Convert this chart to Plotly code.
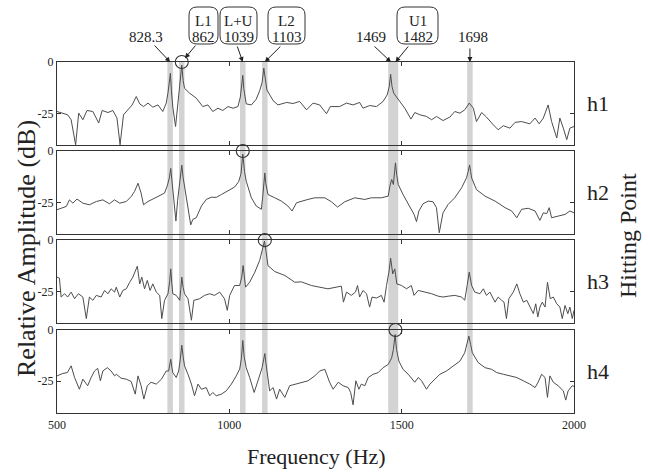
import plotly.graph_objects as go
from plotly.subplots import make_subplots

# ---------------- data (frequency Hz, relative amplitude dB) ----------------
h1 = [(500,-24.1),(517,-24.9),(531,-25.7),(541,-28.1),(554,-40.3),(563,-24.9),(575,-28.1),(587,-23.6),
      (604,-24.1),(621,-29.7),(631,-23.6),(648,-24.6),(662,-23.6),(674,-27.3),(683,-40.3),(693,-25.7),
      (706,-23.0),(718,-20.9),(730,-16.8),(740,-20.4),(751,-21.7),(764,-20.0),(778,-22.0),(793,-20.9),
      (807,-24.1),(817,-20.0),(822,-15.0),(826,-10.0),(829,-5.5),(832,-14.0),(836,-22.0),(844,-31.4),
      (849,-22.0),(854,-14.0),(858,-9.0),(862,-1.5),(866,-9.0),(870,-12.8),(885,-15.2),(904,-17.6),
      (923,-21.7),(938,-20.9),(952,-24.1),(967,-22.5),(981,-23.6),(996,-21.7),(1011,-22.5),(1025,-21.7),
      (1032,-17.0),(1036,-12.0),(1039,-6.5),(1042,-13.0),(1046,-18.5),(1049,-20.4),(1064,-20.9),
      (1078,-18.1),(1088,-14.0),(1095,-10.0),(1100,-3.0),(1104,-9.0),(1109,-13.6),(1127,-18.8),
      (1141,-20.9),(1166,-19.7),(1185,-20.2),(1204,-19.2),(1224,-23.3),(1243,-20.0),(1262,-20.9),
      (1282,-25.2),(1293,-21.7),(1320,-21.7),(1340,-20.0),(1359,-20.9),(1378,-19.7),(1388,-22.5),
      (1407,-21.2),(1427,-21.7),(1446,-19.2),(1458,-16.0),(1464,-12.0),(1468,-6.0),(1472,-12.0),
      (1477,-15.2),(1490,-18.4),(1509,-22.5),(1527,-27.8),(1538,-24.6),(1553,-25.7),(1572,-26.5),
      (1587,-28.1),(1601,-26.5),(1620,-28.5),(1640,-26.8),(1654,-24.1),(1669,-24.9),(1683,-23.3),
      (1696,-20.0),(1708,-22.5),(1717,-29.0),(1732,-24.6),(1746,-26.8),(1766,-30.6),(1780,-33.0),
      (1795,-31.0),(1814,-32.2),(1829,-29.4),(1848,-29.0),(1872,-30.1),(1887,-27.3),(1899,-30.1),
      (1911,-27.3),(1925,-20.9),(1935,-29.0),(1950,-37.0),(1959,-27.3),(1969,-32.2),(1979,-37.8),
      (1988,-32.2),(2000,-31.4)]

h2 = [(500,-28.6),(512,-27.8),(527,-27.0),(536,-23.8),(546,-25.4),(558,-23.4),(575,-25.4),(594,-26.2),
      (614,-24.6),(633,-23.8),(652,-25.7),(667,-23.8),(682,-25.4),(701,-24.6),(715,-22.2),(725,-19.7),
      (735,-15.7),(744,-20.5),(751,-26.2),(764,-24.6),(783,-22.9),(803,-21.3),(812,-20.5),(820,-17.0),
      (826,-13.0),(830,-8.5),(834,-16.0),(837,-22.8),(845,-34.1),(850,-24.0),(855,-16.0),(859,-11.0),
      (862,-6.9),(866,-13.0),(872,-19.6),(880,-26.8),(888,-36.0),(894,-33.3),(904,-32.5),(919,-26.8),
      (933,-23.6),(948,-22.5),(962,-22.6),(977,-21.2),(996,-19.6),(1015,-17.6),(1027,-15.0),(1034,-11.0),
      (1039,-1.5),(1044,-10.0),(1049,-14.7),(1064,-22.8),(1078,-26.8),(1093,-28.4),(1097,-22.0),
      (1100,-15.0),(1103,-10.7),(1106,-16.0),(1112,-21.2),(1132,-22.8),(1151,-24.4),(1170,-26.8),
      (1182,-29.2),(1195,-25.2),(1209,-24.4),(1228,-23.6),(1248,-22.8),(1277,-22.8),(1296,-24.7),
      (1314,-27.3),(1335,-24.7),(1364,-22.8),(1393,-23.6),(1412,-22.8),(1441,-22.8),(1461,-22.0),
      (1466,-17.0),(1471,-13.9),(1476,-16.3),(1482,-5.8),(1486,-12.0),(1490,-16.3),(1504,-21.2),
      (1524,-27.6),(1536,-30.9),(1543,-34.4),(1550,-29.2),(1562,-25.7),(1577,-24.4),(1591,-24.7),
      (1601,-27.6),(1609,-39.8),(1620,-30.1),(1635,-26.0),(1654,-22.8),(1674,-17.9),(1688,-13.1),
      (1693,-10.0),(1697,-6.8),(1700,-10.0),(1703,-13.1),(1717,-18.8),(1742,-22.0),(1771,-24.4),
      (1800,-27.6),(1819,-29.2),(1834,-32.5),(1848,-28.4),(1867,-27.9),(1887,-29.2),(1901,-33.8),
      (1911,-30.1),(1921,-30.5),(1928,-27.6),(1935,-32.5),(1954,-31.7),(1974,-30.9),(1988,-29.2),
      (2000,-30.1)]

h3 = [(500,-18.0),(507,-18.5),(512,-27.7),(522,-26.1),(531,-27.7),(541,-25.3),(551,-28.5),(562,-26.1),
      (575,-27.7),(585,-38.2),(594,-27.7),(604,-29.3),(614,-26.9),(628,-27.7),(638,-24.5),(648,-26.1),
      (657,-23.7),(667,-25.3),(672,-22.9),(682,-27.7),(691,-24.5),(701,-23.7),(711,-20.5),(720,-18.0),
      (733,-12.7),(740,-21.3),(746,-18.0),(754,-23.7),(762,-19.6),(770,-24.5),(778,-21.3),(788,-25.3),
      (798,-26.9),(804,-38.2),(812,-29.3),(822,-26.1),(827,-20.0),(830,-14.0),(833,-21.0),(836,-26.1),
      (846,-26.9),(856,-29.3),(859,-24.0),(862,-18.0),(866,-23.0),(870,-26.1),(880,-28.5),(890,-39.0),
      (897,-29.3),(914,-28.5),(928,-26.9),(943,-26.1),(957,-26.9),(972,-25.3),(986,-28.5),(994,-34.2),
      (1001,-26.9),(1015,-22.1),(1030,-22.1),(1036,-18.0),(1040,-12.4),(1044,-19.0),(1047,-22.9),
      (1059,-20.5),(1074,-15.6),(1088,-9.9),(1097,-4.0),(1102,-0.5),(1106,-5.0),(1112,-12.4),
      (1132,-15.3),(1161,-17.2),(1190,-20.5),(1209,-20.3),(1238,-22.1),(1267,-22.9),(1286,-23.7),
      (1325,-22.4),(1331,-30.2),(1340,-25.3),(1354,-26.9),(1366,-25.3),(1372,-22.1),(1378,-27.7),
      (1388,-24.5),(1398,-26.1),(1407,-32.6),(1414,-27.7),(1427,-28.2),(1441,-26.9),(1449,-30.2),
      (1456,-22.1),(1463,-15.6),(1468,-8.8),(1474,-16.4),(1480,-14.0),(1486,-21.3),(1500,-22.1),
      (1514,-23.7),(1528,-22.1),(1536,-26.9),(1548,-24.5),(1567,-25.3),(1587,-26.1),(1606,-27.3),
      (1620,-27.7),(1635,-27.3),(1654,-26.9),(1674,-27.7),(1683,-29.3),(1690,-22.1),(1696,-15.6),
      (1703,-22.1),(1712,-25.3),(1727,-26.1),(1737,-23.7),(1746,-26.9),(1756,-25.3),(1771,-30.2),
      (1780,-27.7),(1790,-29.3),(1797,-30.2),(1804,-38.2),(1811,-28.5),(1824,-25.3),(1834,-21.3),
      (1843,-26.1),(1853,-30.2),(1863,-29.3),(1872,-32.6),(1882,-35.8),(1889,-31.0),(1895,-37.4),
      (1901,-32.6),(1908,-30.2),(1916,-32.6),(1923,-20.5),(1931,-28.5),(1940,-27.7),(1950,-31.0),
      (1959,-32.6),(1966,-38.2),(1974,-31.8),(1982,-35.8),(1988,-32.6),(1995,-38.2),(2000,-34.2)]

h4 = [(500,-22.4),(517,-21.2),(530,-20.8),(541,-17.5),(551,-23.2),(565,-28.9),(575,-24.0),(585,-26.4),
      (589,-27.2),(599,-23.2),(609,-20.0),(618,-18.7),(626,-24.8),(633,-20.0),(646,-18.4),(657,-20.0),
      (667,-22.4),(672,-21.6),(686,-23.5),(701,-24.0),(715,-25.1),(727,-31.3),(735,-22.4),(744,-27.2),
      (752,-33.7),(762,-27.2),(773,-25.5),(788,-26.4),(803,-24.0),(817,-20.0),(824,-20.0),(827,-17.0),
      (830,-14.3),(833,-18.0),(836,-20.8),(846,-23.2),(853,-20.0),(858,-14.0),(862,-7.4),(866,-13.0),
      (870,-17.5),(880,-21.6),(890,-26.4),(899,-32.1),(909,-26.4),(919,-28.9),(933,-28.1),(943,-32.1),
      (952,-30.5),(962,-32.1),(977,-31.3),(991,-29.7),(1006,-26.4),(1020,-22.4),(1030,-19.1),
      (1035,-14.0),(1039,-5.1),(1043,-13.0),(1049,-18.4),(1059,-23.2),(1072,-30.5),(1083,-24.8),
      (1095,-18.4),(1100,-14.0),(1103,-11.5),(1106,-16.0),(1110,-21.6),(1117,-29.7),(1127,-28.1),
      (1137,-33.7),(1146,-28.9),(1161,-32.9),(1175,-27.2),(1195,-26.4),(1209,-25.5),(1228,-24.8),
      (1248,-22.4),(1262,-20.0),(1277,-19.2),(1291,-25.5),(1301,-28.9),(1316,-25.5),(1330,-27.2),
      (1345,-28.1),(1352,-30.5),(1359,-36.5),(1367,-24.8),(1376,-28.9),(1383,-26.4),(1393,-27.2),
      (1403,-23.2),(1417,-21.6),(1432,-20.8),(1446,-18.4),(1461,-16.8),(1471,-13.6),(1476,-9.5),
      (1481,-2.2),(1485,-9.5),(1492,-15.2),(1504,-19.2),(1519,-21.6),(1538,-25.5),(1548,-23.2),
      (1558,-24.8),(1572,-28.9),(1582,-26.4),(1596,-24.0),(1611,-21.6),(1630,-20.0),(1649,-17.5),
      (1669,-15.2),(1683,-11.1),(1690,-7.0),(1695,-3.0),(1700,-7.0),(1705,-11.1),(1722,-15.9),
      (1742,-18.4),(1761,-19.2),(1776,-20.8),(1795,-21.6),(1814,-22.4),(1834,-23.2),(1853,-24.8),
      (1872,-26.4),(1887,-28.1),(1896,-25.5),(1906,-21.6),(1916,-23.2),(1923,-32.9),(1930,-22.4),
      (1940,-25.5),(1954,-27.2),(1969,-29.7),(1976,-34.2),(1983,-29.7),(1995,-27.2),(2000,-27.5)]

spectra = [h1, h2, h3, h4]
panel_labels = ["h1", "h2", "h3", "h4"]
hit_freqs = [862, 1039, 1103, 1482]          # circled peak = hitting point
band_freqs = [828.3, 862, 1039, 1103, 1469, 1482, 1698]
x_ticks = [500, 1000, 1500, 2000]
y_ticks = [-25, 0]
y_ticktext = ["-25", "0"]

plain_labels = ["828.3", "1469", "1698"]
boxed_labels = [("L1", "862"), ("L+U", "1039"), ("L2", "1103"), ("U1", "1482")]

# ---------------- layout geometry ----------------
W, H = 650, 475
ML, MR, MT, MB = 57, 76, 62, 62
PW, PH = W - ML - MR, H - MT - MB
FONT = "Liberation Serif, Times New Roman, serif"
INK = "#222222"

def px(x):
    return (x - ML) / PW

def py(y):
    return (H - MB - y) / PH

domains = [[0.763, 1.0], [0.5095, 0.7465], [0.2555, 0.4925], [0.0, 0.2365]]

fig = make_subplots(rows=4, cols=1)

for i, (spec, hf) in enumerate(zip(spectra, hit_freqs)):
    r = i + 1
    fx = [p[0] for p in spec]
    fy = [p[1] for p in spec]
    fig.add_trace(go.Scatter(x=fx, y=fy, mode="lines",
                             line=dict(color="#4d4d4d", width=1),
                             showlegend=False, hoverinfo="skip"), row=r, col=1)
    fig.add_trace(go.Scatter(x=[hf], y=[0], mode="markers", cliponaxis=False,
                             marker=dict(symbol="circle-open", size=13, color="#333333",
                                         line=dict(width=1.1)),
                             showlegend=False, hoverinfo="skip"), row=r, col=1)
    fig.update_xaxes(row=r, col=1, range=[500, 2000], tickvals=x_ticks,
                     ticktext=[str(t) for t in x_ticks], showticklabels=(r == 4),
                     ticks="inside", ticklen=4, tickcolor="#333", mirror="ticks",
                     showline=True, linecolor="#333", linewidth=1.2,
                     showgrid=False, zeroline=False,
                     tickfont=dict(family=FONT, size=12, color=INK))
    fig.update_yaxes(row=r, col=1, range=[-40.5, 0], domain=domains[i],
                     tickvals=y_ticks, ticktext=y_ticktext,
                     ticks="inside", ticklen=4, tickcolor="#333", mirror="ticks",
                     showline=True, linecolor="#333", linewidth=1.2,
                     showgrid=False, zeroline=False,
                     tickfont=dict(family=FONT, size=12, color=INK))

shapes = []
for bf in band_freqs:
    shapes.append(dict(type="rect", xref="x4", yref="paper", x0=bf - 8, x1=bf + 8,
                       y0=0, y1=1, fillcolor="#d3d3d3", line=dict(width=0),
                       layer="below"))

def rbox(x0, y0, x1, y1, r=8):
    X0, X1, Yt, Yb = px(x0), px(x1), py(y0), py(y1)
    rx, ry = r / PW, r / PH
    return (f"M {X0+rx},{Yt} L {X1-rx},{Yt} Q {X1},{Yt} {X1},{Yt-ry} "
            f"L {X1},{Yb+ry} Q {X1},{Yb} {X1-rx},{Yb} L {X0+rx},{Yb} "
            f"Q {X0},{Yb} {X0},{Yb+ry} L {X0},{Yt-ry} Q {X0},{Yt} {X0+rx},{Yt} Z")

box_px = [(189, 7, 218, 44), (220, 7, 257, 44), (268, 7, 305, 44), (397, 7, 438, 44)]
for bx in box_px:
    shapes.append(dict(type="path", xref="paper", yref="paper", path=rbox(*bx),
                       line=dict(color="#333", width=1), fillcolor="rgba(0,0,0,0)"))

annotations = []
def txt(s, x, y, size=15, angle=0):
    annotations.append(dict(text=s, xref="paper", yref="paper", x=px(x), y=py(y),
                            xanchor="center", yanchor="middle", showarrow=False,
                            textangle=angle, font=dict(family=FONT, size=size, color=INK)))

plain_pos = [(146, 37), (371, 37), (472.5, 37)]
for s, (x, y) in zip(plain_labels, plain_pos):
    txt(s, x, y)
for (l1, l2), (x0, y0, x1, y1) in zip(boxed_labels, box_px):
    cx = (x0 + x1) / 2
    txt(l1, cx, 21.5)
    txt(l2, cx, 36.5)

# arrows: (target frequency, tail dx, tail dy, standoff)
arrows = [(828.3, -17, -18, 0), (862, 15, -18, 5), (1039, -6, -17, 0), (1103, 17, -17, 0),
          (1469, -18, -17, 0), (1482, 14, -17, 0), (1698, 0, -15, 0)]
for f, ax, ay, so in arrows:
    annotations.append(dict(text="", x=f, y=1, xref="x4", yref="paper", ax=ax, ay=ay,
                            showarrow=True, arrowhead=2, arrowsize=1, arrowwidth=1,
                            arrowcolor=INK, standoff=so))

for lab, d in zip(panel_labels, domains):
    annotations.append(dict(text=lab, xref="paper", yref="paper", x=px(598),
                            y=(d[0] + d[1]) / 2, xanchor="center", yanchor="middle",
                            showarrow=False, font=dict(family=FONT, size=22, color=INK)))

txt("Relative Amplitude (dB)", 27, 249, size=26, angle=-90)
txt("Hitting Point", 628, 236, size=24, angle=-90)
txt("Frequency (Hz)", 316, 456, size=22)

fig.update_layout(width=W, height=H, margin=dict(l=ML, r=MR, t=MT, b=MB),
                  paper_bgcolor="white", plot_bgcolor="rgba(0,0,0,0)",
                  font=dict(family=FONT, color=INK),
                  shapes=shapes, annotations=annotations, showlegend=False)

fig.write_html("out.html", config={"displayModeBar": False},
               post_script="document.body.style.margin='0px';document.body.style.padding='0px';")
